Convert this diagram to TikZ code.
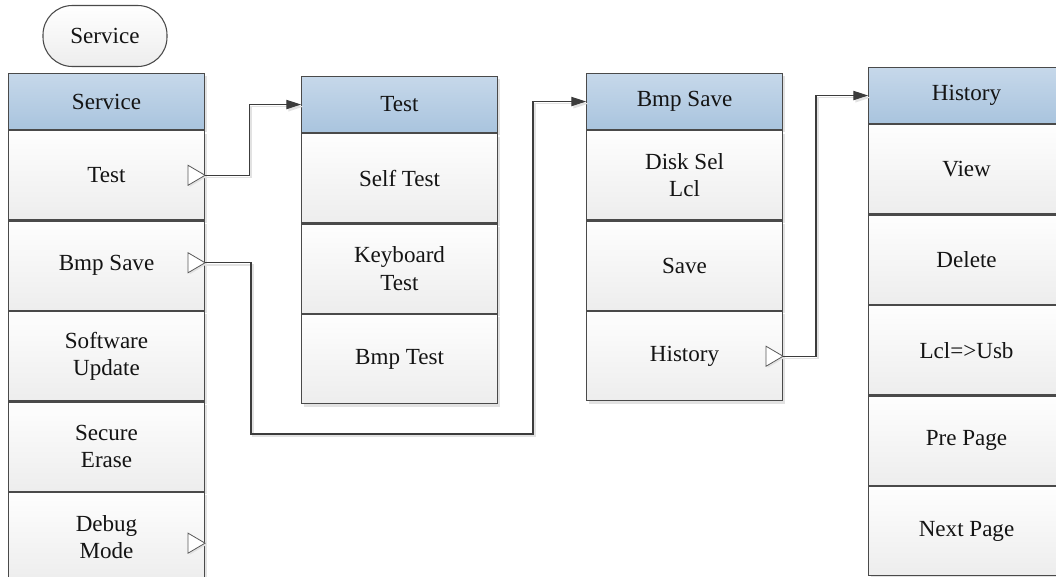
\documentclass[tikz,border=0pt]{standalone}
\usepackage{fontspec}
\newfontfamily\tnr{LiberationSerif}[Extension=.ttf, UprightFont=*-Regular]
\usetikzlibrary{arrows.meta,shadows,calc}
\definecolor{hdrtop}{HTML}{C6D8EA}
\definecolor{hdrbot}{HTML}{A9C4DE}
\definecolor{rowtop}{HTML}{FEFEFE}
\definecolor{rowbot}{HTML}{EDEDED}
\definecolor{edge}{HTML}{4A4A4A}
\definecolor{shade}{HTML}{E2E2E2}
\definecolor{wire}{HTML}{3C3C3C}
\begin{document}
\begin{tikzpicture}[x=0.75pt,y=-0.75pt,
  every node/.style={font=\tnr\fontsize{17.3}{20.5}\selectfont, text=black!92},
  cell/.style={draw=edge, line width=0.8pt, rectangle, inner sep=0pt,
    minimum width=147pt, anchor=north west, align=center,
    drop shadow={shadow xshift=2.2pt, shadow yshift=-2.2pt, fill=shade, opacity=1}},
  hdr/.style={cell, minimum height=42pt, top color=hdrtop, bottom color=hdrbot},
  item/.style={cell, minimum height=67.05pt, top color=rowtop, bottom color=rowbot},
  term/.style={draw=edge, line width=0.8pt, rounded corners=22pt, minimum width=93pt,
    minimum height=45.75pt, inner sep=0pt, top color=white, bottom color=rowbot},
  tri/.style={draw=black!65, fill=white, line width=0.6pt, line join=miter,
    drop shadow={shadow xshift=1.2pt, shadow yshift=-1.2pt, fill=shade, opacity=1}},
  conn/.style={draw=wire, line width=0.8pt, -{Triangle[length=11pt,width=7pt]}},
  connshadow/.style={draw=shade, line width=1.1pt, transform canvas={shift={(1.6pt,-1.6pt)}},
    -{Triangle[length=11pt,width=7pt]}}
]
\useasboundingbox (0,0) rectangle (1056,577);

% start terminator
\node[term] (start) at (105,36) {Service};

% Service column
\node[hdr] (sh) at (8,73) {Service};
\node[item] (s1) at (sh.south west) {Test};
\node[item] (s2) at (s1.south west) {Bmp Save};
\node[item] (s3) at (s2.south west) {Software\\Update};
\node[item] (s4) at (s3.south west) {Secure\\Erase};
\node[item] (s5) at (s4.south west) {Debug\\Mode};

% Test column
\node[hdr] (th) at (301,76) {Test};
\node[item] (t1) at (th.south west) {Self Test};
\node[item] (t2) at (t1.south west) {Keyboard\\Test};
\node[item] (t3) at (t2.south west) {Bmp Test};

% Bmp Save column
\node[hdr] (bh) at (586,73) {Bmp Save};
\node[item] (b1) at (bh.south west) {Disk Sel\\Lcl};
\node[item] (b2) at (b1.south west) {Save};
\node[item] (b3) at (b2.south west) {History};

% History column
\node[hdr] (hh) at (868,67) {History};
\node[item] (h1) at (hh.south west) {View};
\node[item] (h2) at (h1.south west) {Delete};
\node[item] (h3) at (h2.south west) {Lcl=>Usb};
\node[item] (h4) at (h3.south west) {Pre Page};
\node[item] (h5) at (h4.south west) {Next Page};

% submenu markers
\coordinate (m1) at (s1.east);
\coordinate (m2) at ($(s2.east)+(0,-3)$);
\coordinate (m5) at ($(s5.east)+(0,6)$);
\coordinate (m3) at (b3.east);
\foreach \m in {m1,m2,m5,m3}
  \draw[tri] (\m) -- ++(-17,-10) -- ++(0,20) -- cycle;

% bend points
\coordinate (k1) at (251,434);
\coordinate (k2) at (533,434);
\coordinate (k3) at (816,353);

% connector shadows
\draw[connshadow] (m1) -- ++(44,0) |- (th.west);
\draw[connshadow] (m2) -| (k1) -- (k2) |- (bh.west);
\draw[connshadow] (m3) -| (k3) |- (hh.west);

% connectors
\draw[conn] (m1) -- ++(44,0) |- (th.west);
\draw[conn] (m2) -| (k1) -- (k2) |- (bh.west);
\draw[conn] (m3) -| (k3) |- (hh.west);
\end{tikzpicture}
\end{document}
